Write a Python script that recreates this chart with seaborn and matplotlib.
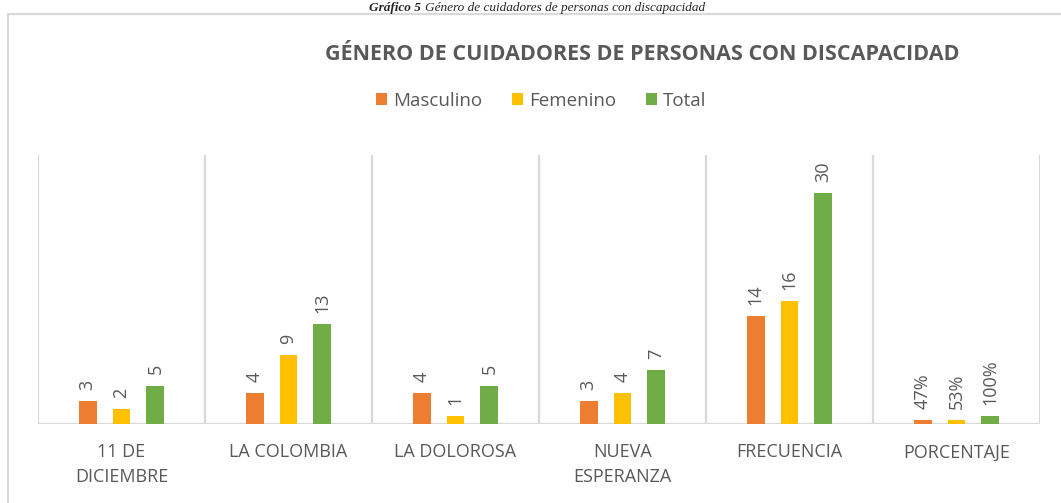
import pandas as pd
import matplotlib.pyplot as plt
import seaborn as sns
from matplotlib.patches import Rectangle

categories = ["11 DE DICIEMBRE", "LA COLOMBIA", "LA DOLOROSA",
              "NUEVA ESPERANZA", "FRECUENCIA", "PORCENTAJE"]
tick_labels = ["11 DE\nDICIEMBRE", "LA COLOMBIA", "LA DOLOROSA",
               "NUEVA\nESPERANZA", "FRECUENCIA", "PORCENTAJE"]
series = ["Masculino", "Femenino", "Total"]
masculino = [3, 4, 4, 3, 14, 0.47]
femenino = [2, 9, 1, 4, 16, 0.53]
total = [5, 13, 5, 7, 30, 1.00]
colors = ["#ED7D31", "#FFC000", "#70AD47"]

gray = "#595959"
grid = "#D9D9D9"

df = pd.DataFrame({
    "Lugar": categories * 3,
    "Género": [s for s in series for _ in categories],
    "Valor": masculino + femenino + total,
})

sns.set_theme(style="white")
plt.rcParams["font.family"] = ["Open Sans", "DejaVu Sans"]

fig = plt.figure(figsize=(10.61, 5.03), dpi=100)
ax = fig.add_axes([38 / 1061, 1 - 424 / 503, (1040 - 38) / 1061, (424 - 155) / 503])

sns.barplot(data=df, x="Lugar", y="Valor", hue="Género", order=categories,
            hue_order=series, palette=colors, width=0.61, gap=0.47,
            linewidth=0, saturation=1, legend=True, ax=ax)

# data labels, rotated like the original
for cont, vals in zip(ax.containers, [masculino, femenino, total]):
    labs = []
    for cat, v in zip(categories, vals):
        if cat == "PORCENTAJE":
            labs.append(f"{v * 100:.0f}%")
        else:
            labs.append(f"{v:g}")
    ax.bar_label(cont, labels=labs, rotation=90, padding=8,
                 color=gray, fontsize=13)

ax.set_xlim(-0.5, len(categories) - 0.5)
ax.set_ylim(0, 35)
for x in range(len(categories) + 1):
    ax.axvline(x - 0.5, color=grid, lw=1.6, zorder=0)
ax.axhline(0, color=grid, lw=1.6, zorder=0)
sns.despine(ax=ax, left=True, bottom=True)
ax.set_yticks([])
ax.set_xlabel("")
ax.set_ylabel("")
ax.set_xticks(range(len(categories)))
ax.set_xticklabels(tick_labels, color=gray, fontsize=13, linespacing=1.45)
ax.tick_params(axis="x", length=0, pad=14)

handles, labels = ax.get_legend_handles_labels()
ax.legend_.remove()
fig.legend(handles, labels, loc="center", bbox_to_anchor=(541 / 1061, 1 - 101 / 503),
           ncol=3, frameon=False, fontsize=13.5, handlelength=0.6, handleheight=0.6,
           handletextpad=0.3, columnspacing=1.6, labelcolor=gray)

fig.text(642 / 1061, 1 - 55 / 503, "GÉNERO DE CUIDADORES DE PERSONAS CON DISCAPACIDAD",
         ha="center", va="center", fontsize=15.5, fontweight="bold", color=gray)

# chart area border, running off the right and bottom edges
fig.patches.append(Rectangle((8 / 1061, -0.2), 1.2, 1.2 - 14 / 503,
                             transform=fig.transFigure, fill=False,
                             edgecolor=grid, lw=1.6))

# document caption above the chart: bold italic number, italic text
cap_y = 1 - 11 / 503
t1 = fig.text(0, cap_y, "Gráfico 5 ", ha="left", va="baseline", fontsize=9.5,
              fontweight="bold", style="italic", family="Liberation Serif")
t2 = fig.text(0, cap_y, "Género de cuidadores de personas con discapacidad",
              ha="left", va="baseline", fontsize=9.5, style="italic",
              family="Liberation Serif")
r = fig.canvas.get_renderer()
w1 = t1.get_window_extent(r).width
w2 = t2.get_window_extent(r).width
x0 = 537 - (w1 + w2) / 2
t1.set_x(x0 / 1061)
t2.set_x((x0 + w1) / 1061)

fig.savefig("out.png", dpi=100)
